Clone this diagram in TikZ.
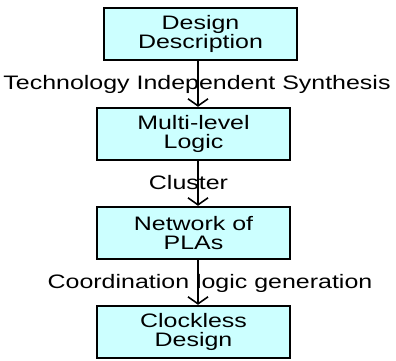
\documentclass[tikz,border=0pt]{standalone}
\usepackage{fontspec}
\setmainfont{Liberation Sans}[FakeStretch=1.28]
\usetikzlibrary{arrows.meta}
\definecolor{boxfill}{RGB}{204,255,255}
\begin{document}
\begin{tikzpicture}[x=1pt,y=-1pt,
  stepbox/.style={draw=black,line width=2.4pt,fill=boxfill,minimum width=193pt,minimum height=52pt,inner sep=0pt,align=center,font=\fontsize{19.5}{19}\selectfont},
  lbl/.style={font=\fontsize{19.5}{19}\selectfont,inner sep=0pt},
  flow/.style={line width=1.6pt,-{Straight Barb[width=20pt,length=7pt,line width=1.6pt]}}]
\useasboundingbox (0,0) rectangle (396,360);
\node[stepbox] (b1) at (200.5,34) {Design\\Description};
\node[stepbox] (b2) at (193.5,134) {Multi-level\\Logic};
\node[stepbox] (b3) at (193.5,233) {Network of\\PLAs};
\node[stepbox] (b4) at (193.5,332) {Clockless\\Design};
\coordinate (ax) at (198,0);
\draw[flow] (b1.south -| ax) -- (b2.north -| ax);
\draw[flow] (b2.south -| ax) -- (b3.north -| ax);
\draw[flow] (b3.south -| ax) -- (b4.north -| ax);
\node[lbl] (l1) at (197,84) {Technology Independent Synthesis};
\node[lbl] (l2) at (188.5,183) {Cluster};
\node[lbl] (l3) at (210,283) {Coordination logic generation};
\end{tikzpicture}
\end{document}
